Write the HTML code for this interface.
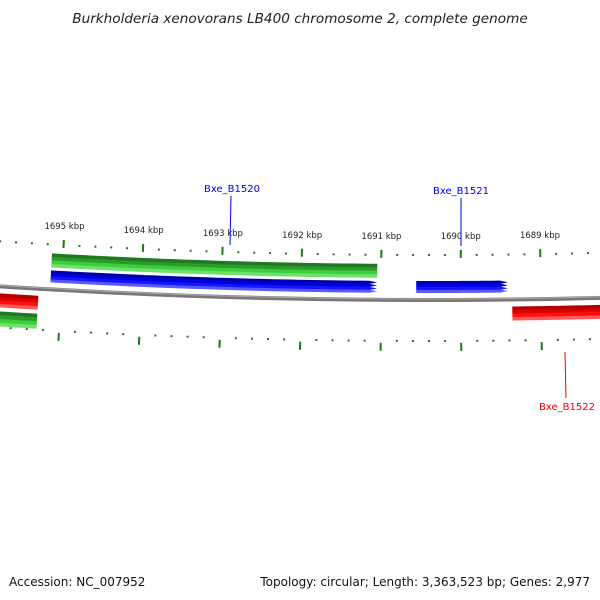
<!DOCTYPE html>
<html><head><meta charset="utf-8">
<style>
html,body{margin:0;padding:0;background:#fff;}
svg{display:block;font-family:"DejaVu Sans","Liberation Sans",sans-serif;}
</style></head>
<body>
<svg id="map" width="600" height="600" viewBox="0 0 600 600">
<text x="300" y="23" text-anchor="middle" font-size="13.6" font-style="italic" fill="#222">Burkholderia xenovorans LB400 chromosome 2, complete genome</text>
<text x="9" y="586" font-size="12" fill="#111">Accession: NC_007952</text>
<text x="590" y="586" text-anchor="end" font-size="12" fill="#111">Topology: circular; Length: 3,363,523 bp; Genes: 2,977</text>
<g id="layer"></g>
</svg>
<script>
// data (kbp positions)
const tickKbp = [1695, 1694, 1693, 1692, 1691, 1690, 1689];
const featStart = [1695.14, 1695.14, 1690.56, 1687.0, 1696.5, 1696.5];
const featEnd   = [1691.05, 1691.05, 1689.41, 1689.36, 1695.28, 1695.28];
const featTrack = ['fwd2', 'fwd1', 'fwd1', 'rev1', 'rev1', 'rev2'];
const featColor = ['green', 'blue', 'blue', 'red', 'red', 'green'];
const featArrow = ['none', 'right', 'right', 'left', 'none', 'none'];
const geneNames = ['Bxe_B1520', 'Bxe_B1521', 'Bxe_B1522'];
const geneKbp = [1693.14, 1689.99, 1688.69];

const NS = 'http://www.w3.org/2000/svg';
const layer = document.getElementById('layer');
const R = 6800, CX = 430, BOTY = 300, CY = BOTY - R;
function theta(kbp){ const xl = 461 + (1690 - kbp) * 80; return (xl - CX) / R; }
// off > 0 means above backbone (toward center)
function pt(kbp, off){ const t = theta(kbp), r = R - off; return [CX + r*Math.sin(t), CY + r*Math.cos(t)]; }
function mk(tag, attrs){ const e = document.createElementNS(NS, tag); for (const k in attrs) e.setAttribute(k, attrs[k]); layer.appendChild(e); return e; }
function arcPts(a, b, off){ const n = 40, out = []; for (let i = 0; i <= n; i++){ out.push(pt(a + (b-a)*i/n, off)); } return out; }
function arcBand(k1, k2, o1, o2, arrow){
  const mid = (o1+o2)/2;
  let a = k1, b = k2;
  if (arrow === 'right') b = k2 + 0.1;
  if (arrow === 'left') a = k1 - 0.1;
  let pts = arcPts(a, b, o2);
  if (arrow === 'right') pts.push(pt(k2, mid));
  pts = pts.concat(arcPts(b, a, o1));
  if (arrow === 'left') pts.push(pt(k1, mid));
  return 'M' + pts.map(p => p[0].toFixed(2) + ',' + p[1].toFixed(2)).join(' L') + ' Z';
}
// backbone
const bbPts = arcPts(1696.5, 1687.0, 0);
const bb = mk('path', {d:'M' + bbPts.map(p => p[0] + ',' + p[1]).join(' L'), stroke:'#777', 'stroke-width':4, fill:'none'});


const bbPts2 = arcPts(1696.5, 1687.0, 1);
const bb2 = mk('path', {d:'M' + bbPts2.map(p => p[0] + ',' + p[1]).join(' L'), stroke:'#aaa', 'stroke-width':1, fill:'none'});



// ticks every 0.2 kbp
for (let i = 0; i <= 50; i++){
  const k = 1687.0 + i*0.2;
  const major = Math.abs(k - Math.round(k)) < 0.01;
  const o = major ? [42,50] : [44,46];
  const inn = major ? [-51,-43] : [-42,-40];
  [o, inn].forEach((r, j) => {
    const a = pt(k, r[0]), b = pt(k, r[1]);
    const l = mk('line', {x1:a[0], y1:a[1], x2:b[0], y2:b[1], stroke:'#1a7a1a', 'stroke-width':2});
    
    
  });
}
tickKbp.forEach(k => {
  const p = pt(k, 61);
  const t = mk('text', {x:p[0], y:p[1], 'text-anchor':'middle', 'font-size':8.5, fill:'#222'});
  t.textContent = k + ' kbp';
  
  
});

const tracks = {fwd1:[7,19], fwd2:[22,36], rev1:[-21,-7], rev2:[-40,-25]};
const pal = {
  green:['#1f7a1f','#2e9a2e','#3ccf3c','#6ee06e'],
  blue:['#0000a8','#0000e0','#1515ff','#5a5aff'],
  red:['#b00000','#e00000','#ff1010','#ff5a5a']
};
featStart.forEach((s, i) => {
  const [o1, o2] = tracks[featTrack[i]];
  const cols = pal[featColor[i]];
  const n = cols.length, h = (o2 - o1)/n;
  const g = document.createElementNS(NS, 'g');
  
  
  layer.appendChild(g);
  for (let j = 0; j < n; j++){
    const top = o2 - j*h, bot = top - h - (j < n-1 ? 0.3 : 0);
    const p = document.createElementNS(NS, 'path');
    p.setAttribute('d', arcBand(s, featEnd[i], bot, top, featArrow[i]));
    p.setAttribute('fill', cols[j]);
    
    
    g.appendChild(p);
  }
});

// gene labels
const labelPos = [[232,192,'#0000ee',[231,196,230,245]],[461,194,'#0000ee',[461,198,461,246]],[567,410,'#ee0000',[565,352,566,398]]];
geneNames.forEach((n, i) => {
  const lp = labelPos[i];
  const l = mk('line', {x1:lp[3][0], y1:lp[3][1], x2:lp[3][2], y2:lp[3][3], stroke:lp[2], 'stroke-width':1});
  
  
  const t = mk('text', {x:lp[0], y:lp[1], 'text-anchor':'middle', 'font-size':10, fill:lp[2]});
  t.textContent = n;
  
  
});
</script>
</body></html>
